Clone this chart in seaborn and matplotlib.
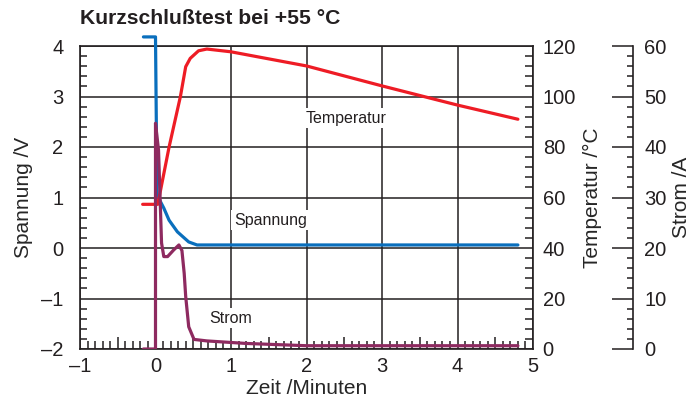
import numpy as np
import pandas as pd
import matplotlib
matplotlib.use("Agg")
import matplotlib.pyplot as plt
import seaborn as sns
from matplotlib.ticker import MultipleLocator

# Spannung (V), left axis
t_spannung = [-0.16, 0.0, 0.02, 0.11, 0.18, 0.29, 0.44, 0.55, 1.0, 2.0, 3.0, 4.0, 4.8]
spannung = [4.18, 4.18, 1.05, 0.79, 0.55, 0.32, 0.12, 0.06, 0.06, 0.06, 0.06, 0.06, 0.06]

# Temperatur (°C), first right axis
t_temp = [-0.17, 0.03, 0.18, 0.33, 0.40, 0.46, 0.57, 0.68, 1.0, 2.0, 3.0, 4.0, 4.8]
temperatur = [57.3, 57.3, 80.0, 100.0, 111.8, 115.1, 118.1, 118.8, 117.7, 112.1, 104.2, 96.6, 91.0]

# Strom (A), second right axis
t_strom = [-0.16, 0.0, 0.0, 0.04, 0.08, 0.11, 0.16, 0.24, 0.31, 0.35, 0.38, 0.40, 0.44,
           0.51, 0.68, 1.2, 2.0, 4.8]
strom = [0.0, 0.0, 44.7, 39.4, 21.0, 18.3, 18.3, 19.6, 20.6, 19.5, 15.0, 10.4, 4.4,
         1.9, 1.6, 1.1, 0.65, 0.65]

x_ticks = [-1, 0, 1, 2, 3, 4, 5]
u_ticks = [-2, -1, 0, 1, 2, 3, 4]
temp_ticks = [0, 20, 40, 60, 80, 100, 120]
strom_ticks = [0, 10, 20, 30, 40, 50, 60]

blue = "#0a6fbd"
red = "#ee1c25"
purple = "#8e2a60"
ink = "#231f20"

sns.set_style("white")
plt.rcParams["font.family"] = ["Liberation Sans", "DejaVu Sans"]
plt.rcParams["axes.edgecolor"] = ink
plt.rcParams["text.color"] = ink
plt.rcParams["xtick.color"] = ink
plt.rcParams["ytick.color"] = ink

fig = plt.figure(figsize=(6.92, 4.01), dpi=100)
ax = fig.add_axes([80 / 692, 1 - 349 / 401, 453 / 692, 303 / 401])
ax_t = ax.twinx()
ax_i = ax.twinx()

lw = 2.3
df_u = pd.DataFrame({"t": t_spannung, "v": spannung})
df_t = pd.DataFrame({"t": t_temp, "v": temperatur})
df_i = pd.DataFrame({"t": t_strom, "v": strom})
sns.lineplot(data=df_u, x="t", y="v", ax=ax, color=blue, lw=lw, sort=False,
             estimator=None, clip_on=False, zorder=3)
sns.lineplot(data=df_t, x="t", y="v", ax=ax_t, color=red, lw=lw, sort=False,
             estimator=None)
sns.lineplot(data=df_i, x="t", y="v", ax=ax_i, color=purple, lw=lw, sort=False,
             estimator=None)

# main axes
ax.set_xlim(-1, 5)
ax.set_ylim(-2, 4)
ax.set_xticks(x_ticks)
ax.set_yticks(u_ticks)
ax.set_xticklabels([str(v).replace("-", "\u2013") for v in x_ticks])
ax.set_yticklabels([str(v).replace("-", "\u2013") for v in u_ticks])
ax.yaxis.set_minor_locator(MultipleLocator(0.2))
ax.set_xticks([v for v in np.round(np.arange(-0.9, 5.0, 0.1), 1)
               if abs(v * 2 - round(v * 2)) > 1e-6], minor=True)
ax.tick_params(axis="both", which="both", direction="in", labelsize=14.5, width=1.1,
               bottom=True, left=True, top=False, right=False)
ax.tick_params(axis="y", which="major", length=0, pad=12)
ax.tick_params(axis="y", which="minor", length=5)
ax.tick_params(axis="x", which="major", length=0, pad=6)
ax.tick_params(axis="x", which="minor", length=5.5)
ax.grid(True, color=ink, lw=1.1)
for s in ax.spines.values():
    s.set_linewidth(1.2)
    s.set_color(ink)
ax.set_xlabel("Zeit /Minuten", fontsize=15, labelpad=2)
ax.set_ylabel("Spannung /V", fontsize=15, labelpad=6)

# half-minute ticks on the bottom
half = ax.secondary_xaxis("bottom")
half.set_xticks([-0.5, 0.5, 1.5, 2.5, 3.5, 4.5])
half.tick_params(direction="in", length=8.5, width=1.1, labelbottom=False)
half.spines["bottom"].set_visible(False)

# temperature axis
ax_t.set_ylim(0, 120)
ax_t.set_yticks(temp_ticks)
ax_t.yaxis.set_minor_locator(MultipleLocator(4))
ax_t.tick_params(axis="y", which="both", direction="in", labelsize=14.5, width=1.1,
                 right=True)
ax_t.tick_params(axis="y", which="major", length=0, pad=7)
ax_t.tick_params(axis="y", which="minor", length=5.5)
ax_t.set_ylabel("Temperatur /°C", fontsize=15, labelpad=5)
for s in ax_t.spines.values():
    s.set_visible(False)

# current axis
ax_i.set_ylim(0, 60)
ax_i.set_yticks(strom_ticks)
ax_i.yaxis.set_minor_locator(MultipleLocator(2))
ax_i.spines["right"].set_position(("axes", 553 / 453))
for name, s in ax_i.spines.items():
    s.set_visible(name == "right")
ax_i.spines["right"].set_linewidth(1.2)
ax_i.spines["right"].set_color(ink)
ax_i.tick_params(axis="y", which="both", direction="in", labelsize=14.5, width=1.1,
                 right=True)
ax_i.tick_params(axis="y", which="major", length=15, pad=8)
ax_i.tick_params(axis="y", which="minor", length=4.5)
ax_i.set_ylabel("Strom /A", fontsize=15, labelpad=4)

# curve labels
box = dict(facecolor="white", edgecolor="none", pad=2)
ax.text(2.52, 2.57, "Temperatur", fontsize=11.5, ha="center", va="center", bbox=box, zorder=2.5)
ax.text(1.52, 0.55, "Spannung", fontsize=11.5, ha="center", va="center", bbox=box, zorder=2.5)
ax.text(1.0, -1.39, "Strom", fontsize=11.5, ha="center", va="center", bbox=box, zorder=2.5)

fig.text(80 / 692, 1 - 19 / 401, "Kurzschlußtest bei +55 °C", fontsize=15.2,
         fontweight="bold", ha="left", va="center")

fig.savefig("out.png", dpi=100)
